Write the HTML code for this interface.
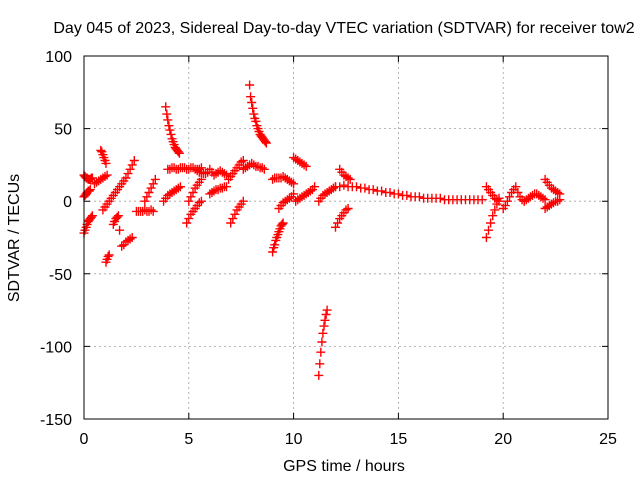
<!DOCTYPE html>
<html><head><meta charset="utf-8"><style>
body{margin:0;background:#fff;}
svg{display:block;font-family:"Liberation Sans",sans-serif;}
</style></head><body>
<svg id="chart" width="640" height="480">
<rect width="640" height="480" fill="#fff"/>
<text x="344" y="33" font-size="16" text-anchor="middle">Day 045 of 2023, Sidereal Day-to-day VTEC variation (SDTVAR) for receiver tow2</text>
<text x="344" y="471" font-size="16" text-anchor="middle">GPS time / hours</text>
<text x="19" y="238" font-size="16" text-anchor="middle" transform="rotate(-90 19 238)">SDTVAR / TECUs</text>
<g id="grid"></g>
<g id="ticks"></g>
<g id="marks"></g>
<rect x="84" y="56" width="524" height="363" fill="none" stroke="#000" stroke-width="1"/>
</svg>
<script>
const xTicks=[0,5,10,15,20,25];
const yTicks=[100,50,0,-50,-100,-150];
const trackStarts=[0,0,0,0.5,0.8,1.05,0.9,1.4,1.6,1.8,2.5,2.9,3.9,4.0,3.8,4.9,5.0,5.4,6.0,7.0,6.9,7.9,7.6,9.0,9.0,9.3,10.0,10.1,11.2,11.2,12.0,12.2,12.0,19.2,19.2,20.0,21.0,22.0,22.0];
const trackSteps=[0.05,0.05,0.05,0.1,0.05,0.05,0.1,0.06,0.1,0.1,0.1,0.1,0.05,0.1,0.1,0.1,0.1,0.1,0.1,0.1,0.1,0.05,0.1,0.05,0.1,0.1,0.1,0.1,0.05,0.1,0.1,0.1,0.2,0.1,0.1,0.1,0.1,0.1,0.1];
const trackValues=[
[-22,-20,-18,-16,-14,-13,-12,-11,-10],
[3,4,5,6,7,7,8],
[18,17,16,16,15,15,15,16,16],
[12,13,14,15,16,17,18],
[35,34,32,30,28,26],
[-42,-40,-38,-37],
[-6,-4,-2,0,2,4,6],
[-16,-14,-12,-11,-10,-20],
[8,10,12,14,16,19,22,25,28],
[-31,-30,-28,-27,-26,-25],
[-7,-7,-7,-7,-6,-7,-7,-6,-7],
[0,3,6,9,12,15],
[65,60,56,52,49,46,43,41,39,37,36,35,34,33],
[22,22,23,23,22,22,23,23,23,22,22,23,23,22,22,22,23],
[0,2,4,5,6,7,8,9,10],
[-15,-12,-9,-7,-5,-3,-1,0],
[0,3,6,9,11,13,15],
[21,20,20,19,19,20,22,20,18,19,20,21,20,19,18],
[5,6,7,8,8,9,9,10,10],
[-15,-12,-9,-6,-4,-2,0],
[15,17,19,21,23,25,27,28],
[80,72,68,64,60,57,55,52,50,48,46,45,44,43,42,41,40],
[22,23,24,25,26,25,24,24,23,23,22],
[-35,-32,-30,-27,-25,-23,-21,-19,-17,-16,-15],
[15,16,16,16,16,17,16,15,14,13,12],
[-5,-3,-1,0,1,2,3,5],
[30,29,28,27,26,25,24],
[0,1,2,3,4,5,6,7,8,10],
[-120,-112,-104,-97,-91,-86,-82,-78,-75],
[0,2,4,5,6,7,8,9,10],
[-18,-15,-12,-10,-8,-6,-5],
[22,20,18,17,16,15],
[10,10,11,10,10,10,9,9,8,8,7,7,6,6,5,5,4,4,3,3,3,2,2,2,2,2,1,1,1,1,1,1,1,1,1,1],
[-25,-20,-15,-10,-6,-2,2],
[10,8,6,4,2,1,0],
[-5,-3,0,3,6,8,10,6,3,1,0],
[0,1,2,3,4,5,5,4,3,2,1],
[15,13,11,9,8,7,6,5],
[-5,-4,-3,-2,-1,0,0,1]
];
const NS="http://www.w3.org/2000/svg";
const X0=84,X1=608,Y0=419,Y1=56,XMIN=0,XMAX=25,YMIN=-150,YMAX=100;
function xs(t){return X0+(t-XMIN)/(XMAX-XMIN)*(X1-X0);}
function ys(v){return Y0-(v-YMIN)/(YMAX-YMIN)*(Y0-Y1);}
const grid=document.getElementById('grid'),ticks=document.getElementById('ticks'),marks=document.getElementById('marks');
function mk(tag,attrs,parent){const e=document.createElementNS(NS,tag);for(const k in attrs)e.setAttribute(k,attrs[k]);parent.appendChild(e);return e;}
xTicks.forEach(t=>{
  const x=xs(t);
  if(t>XMIN&&t<XMAX){const g=mk('line',{x1:x,x2:x,y1:Y0,y2:Y1,stroke:'#a0a0a0','stroke-dasharray':'2,3','stroke-width':0.8},grid);
  
  }
  const tk=mk('path',{d:`M${x},${Y0}v-6M${x},${Y1}v6`,stroke:'#000'},ticks);
  
  
  const l=mk('text',{x:x,y:444,'font-size':16,'text-anchor':'middle'},ticks);
  l.textContent=t;
  
  
});
yTicks.forEach(v=>{
  const y=ys(v);
  if(v>YMIN&&v<YMAX){const g=mk('line',{x1:X0,x2:X1,y1:y,y2:y,stroke:'#a0a0a0','stroke-dasharray':'2,3','stroke-width':0.8},grid);
  
  }
  const tk=mk('path',{d:`M${X0},${y}h6M${X1},${y}h-6`,stroke:'#000'},ticks);
  
  
  const l=mk('text',{x:72,y:y+6,'font-size':16,'text-anchor':'end'},ticks);
  l.textContent=v;
  
  
});
trackValues.forEach((vals,i)=>{
  let d='';
  vals.forEach((v,j)=>{
    const t=trackStarts[i]+trackSteps[i]*j;
    const x=xs(t),y=ys(v);
    d+=`M${(x-4.5).toFixed(1)},${y.toFixed(1)}h9M${x.toFixed(1)},${(y-4.5).toFixed(1)}v9`;
  });
  const p=mk('path',{d:d,stroke:'#ff0000','stroke-width':1.4,fill:'none'},marks);
  
  
});
</script>
</body></html>
